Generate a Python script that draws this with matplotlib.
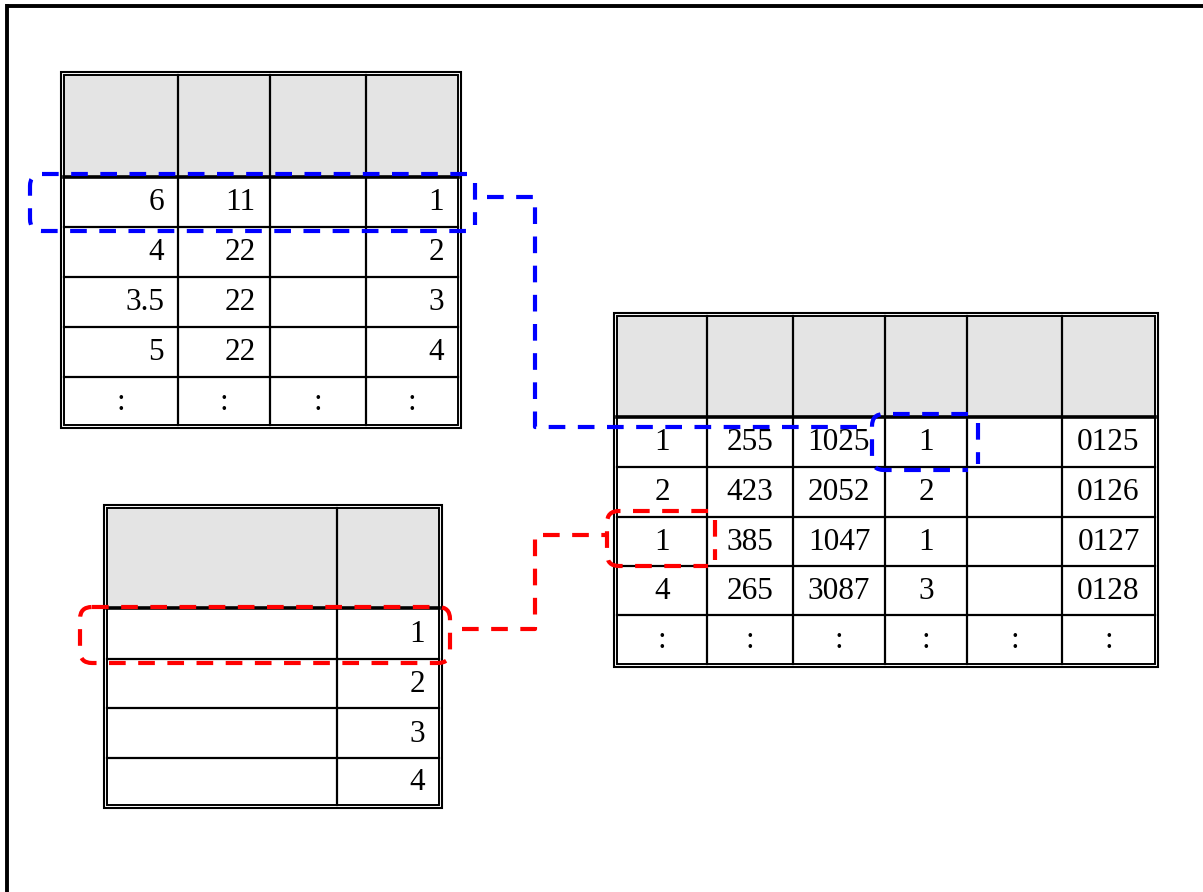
import matplotlib
matplotlib.use("Agg")
import matplotlib.pyplot as plt
from matplotlib.patches import Rectangle, PathPatch
from matplotlib.path import Path

# Tabellen-Inhalte
table1_rows = [["6", "11", "", "1"],
               ["4", "22", "", "2"],
               ["3.5", "22", "", "3"],
               ["5", "22", "", "4"],
               [":", ":", ":", ":"]]
table2_rows = [["1", "255", "1025", "1", "", "0125"],
               ["2", "423", "2052", "2", "", "0126"],
               ["1", "385", "1047", "1", "", "0127"],
               ["4", "265", "3087", "3", "", "0128"],
               [":", ":", ":", ":", ":", ":"]]
table3_rows = [["", "1"],
               ["", "2"],
               ["", "3"],
               ["", "4"]]

# Layout (Pixel)
t1_x = [64, 178, 270, 366, 458]
t1_y = [75, 177, 227, 277, 327, 377, 425]
t1_align = ["right", ("center", 16), "right", "right"]

t2_x = [617, 707, 793, 885, 967, 1062, 1155]
t2_y = [316, 417, 467, 517, 566, 615, 664]
t2_align = ["center"] * 6

t3_x = [107, 337, 439]
t3_y = [508, 608, 659, 708, 758, 805]
t3_align = ["right", "right"]

BLUE = "#0000ff"
RED = "#ff0000"
DASH = (0, (4.0, 3.0))
FONT = dict(family="Liberation Serif", fontsize=22.5, color="black")


def draw_table(ax, xs, ys, rows, aligns):
    x0, x1 = xs[0], xs[-1]
    y0, y1 = ys[0], ys[-1]
    ax.add_patch(Rectangle((x0, y0), x1 - x0, ys[1] - y0, fc="#e4e4e4", ec="none", zorder=1))
    # Doppelrahmen
    ax.add_patch(Rectangle((x0 - 3, y0 - 3), x1 - x0 + 6, y1 - y0 + 6, fill=False, ec="black", lw=1.5, zorder=3))
    ax.add_patch(Rectangle((x0, y0), x1 - x0, y1 - y0, fill=False, ec="black", lw=1.4, zorder=3))
    for x in xs[1:-1]:
        ax.plot([x, x], [y0, y1], color="black", lw=1.6, zorder=2)
    ax.plot([x0, x1], [ys[1], ys[1]], color="black", lw=2.6, zorder=3)
    for y in ys[2:-1]:
        ax.plot([x0, x1], [y, y], color="black", lw=1.6, zorder=2)
    for i, row in enumerate(rows):
        yc = (ys[i + 1] + ys[i + 2]) / 2 + 1
        for j, txt in enumerate(row):
            if not txt:
                continue
            al = aligns[j]
            if txt == ":" or al == "center":
                xt, ha = (xs[j] + xs[j + 1]) / 2, "center"
            elif isinstance(al, tuple):
                xt, ha = (xs[j] + xs[j + 1]) / 2 + al[1], "center"
            else:
                xt, ha = xs[j + 1] - 14, "right"
            ax.text(xt, yc, txt, ha=ha, va="center", zorder=4, **FONT)


def bracket(ax, xl, xr, yt, yb, xv, color, r=12):
    # links abgerundete Klammer + separate senkrechte Linie rechts
    verts = [(xr, yt), (xl + r, yt), (xl, yt), (xl, yt + r), (xl, yb - r), (xl, yb), (xl + r, yb), (xr, yb)]
    codes = [Path.MOVETO, Path.LINETO, Path.CURVE3, Path.CURVE3, Path.LINETO, Path.CURVE3, Path.CURVE3, Path.LINETO]
    ax.add_patch(PathPatch(Path(verts, codes), fill=False, ec=color, lw=3, linestyle=DASH, zorder=5))
    ax.plot([xv, xv], [yt + 9, yb - 6], color=color, lw=3, linestyle=DASH, zorder=5)


def round_box(ax, xl, xr, yt, yb, color, r=12):
    verts = [(xl + r, yt), (xr - r, yt), (xr, yt), (xr, yt + r), (xr, yb - r), (xr, yb), (xr - r, yb),
             (xl + r, yb), (xl, yb), (xl, yb - r), (xl, yt + r), (xl, yt), (xl + r, yt)]
    codes = [Path.MOVETO, Path.LINETO, Path.CURVE3, Path.CURVE3, Path.LINETO, Path.CURVE3, Path.CURVE3,
             Path.LINETO, Path.CURVE3, Path.CURVE3, Path.LINETO, Path.CURVE3, Path.CURVE3]
    ax.add_patch(PathPatch(Path(verts, codes), fill=False, ec=color, lw=3, linestyle=DASH, zorder=5))


fig = plt.figure(figsize=(12.03, 8.92), dpi=100)
ax = fig.add_axes([0, 0, 1, 1])
ax.set_xlim(0, 1203)
ax.set_ylim(892, 0)
ax.axis("off")

# Aussenrahmen (nur oben und links sichtbar)
ax.plot([7, 1203], [5.5, 5.5], color="black", lw=2.8, solid_capstyle="butt")
ax.plot([7, 7], [4, 892], color="black", lw=2.8, solid_capstyle="butt")

draw_table(ax, t1_x, t1_y, table1_rows, t1_align)
draw_table(ax, t2_x, t2_y, table2_rows, t2_align)
draw_table(ax, t3_x, t3_y, table3_rows, t3_align)

# blaue Verbindung
bracket(ax, 30, 467, 174, 231, 475, BLUE)
ax.plot([487, 535, 535, 866], [197, 197, 427, 427], color=BLUE, lw=3, linestyle=DASH, zorder=5)
bracket(ax, 872, 968, 414, 470, 978, BLUE)

# rote Verbindung
round_box(ax, 80, 450, 607, 663, RED)
ax.plot([462, 535, 535, 607], [629, 629, 535, 535], color=RED, lw=3, linestyle=DASH, zorder=5)
bracket(ax, 607, 708, 511, 566, 715, RED)

plt.savefig("out.png", dpi=100)
